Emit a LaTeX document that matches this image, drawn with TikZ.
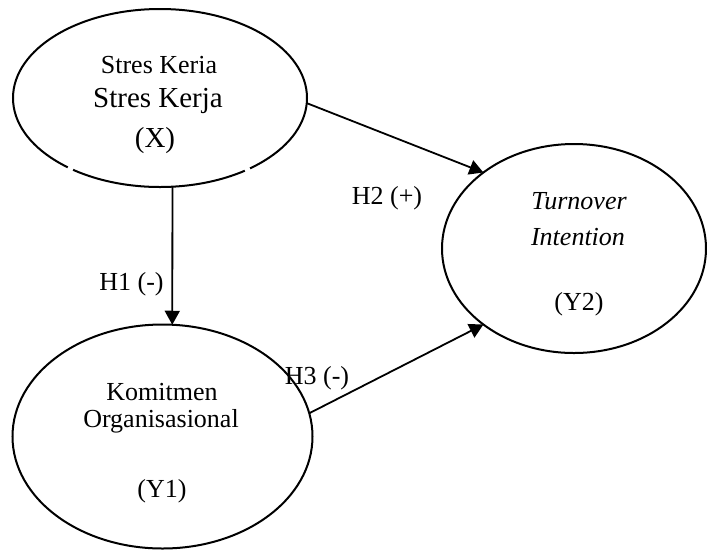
\documentclass[tikz,border=0pt]{standalone}
\usepackage{fontspec}
\setmainfont{Liberation Serif}
\usetikzlibrary{shapes.geometric,arrows.meta}
\begin{document}
\begin{tikzpicture}[x=1pt,y=1pt,
  oval/.style={draw, ellipse, line width=2pt, inner sep=0pt, outer sep=0pt},
  arr/.style={line width=1.8pt, -{Triangle[length=14pt,width=15pt]}},
  lbl/.style={anchor=base, inner sep=0pt, font=\fontsize{26}{30}\selectfont},
  big/.style={anchor=base, inner sep=0pt, font=\fontsize{29}{33}\selectfont}]
\useasboundingbox (0,0) rectangle (707,-550);
% ellipses
\node[oval, minimum width=294pt, minimum height=178pt] (X) at (160,-98) {};
\node[oval, minimum width=300pt, minimum height=224pt] (Y1) at (162.5,-436.5) {};
\node[oval, minimum width=264pt, minimum height=209pt] (Y2) at (574,-248.5) {};
% white gaps in the top ellipse
\draw[white, line width=5pt] (X.center) ++(231.2:147 and 89) arc[start angle=231.2, end angle=233.7, x radius=147, y radius=89];
\draw[white, line width=5pt] (X.center) ++(305.3:147 and 89) arc[start angle=305.3, end angle=307.7, x radius=147, y radius=89];
% texts
\node[lbl] (t1) at (159,-73) {Stres Keria};
\node[big] (t2) at (158,-107) {Stres Kerja};
\node[big] (t3) at (155,-147) {(X)};
\node[lbl] (k1) at (162,-400) {Komitmen};
\node[lbl] (k2) at (161,-427) {Organisasional};
\node[lbl] (k3) at (162,-497) {(Y1)};
\node[lbl] (r1) at (579,-209) {\itshape Turnover};
\node[lbl] (r2) at (578,-245) {\itshape Intention};
\node[lbl] (r3) at (579,-310) {(Y2)};
\node[lbl] (h1) at (131.5,-290) {H1 (-)};
\node[lbl] (h2) at (387,-204) {H2 (+)};
\node[lbl] (h3) at (317,-384) {H3 (-)};
% connectors
\draw[arr] (X.-82.9) -- (Y1.85.7);
\draw[arr] (X.-2.7) -- (Y2.140.2);
\draw[arr] (Y1.9.6) -- (Y2.220.7);
\end{tikzpicture}
\end{document}
